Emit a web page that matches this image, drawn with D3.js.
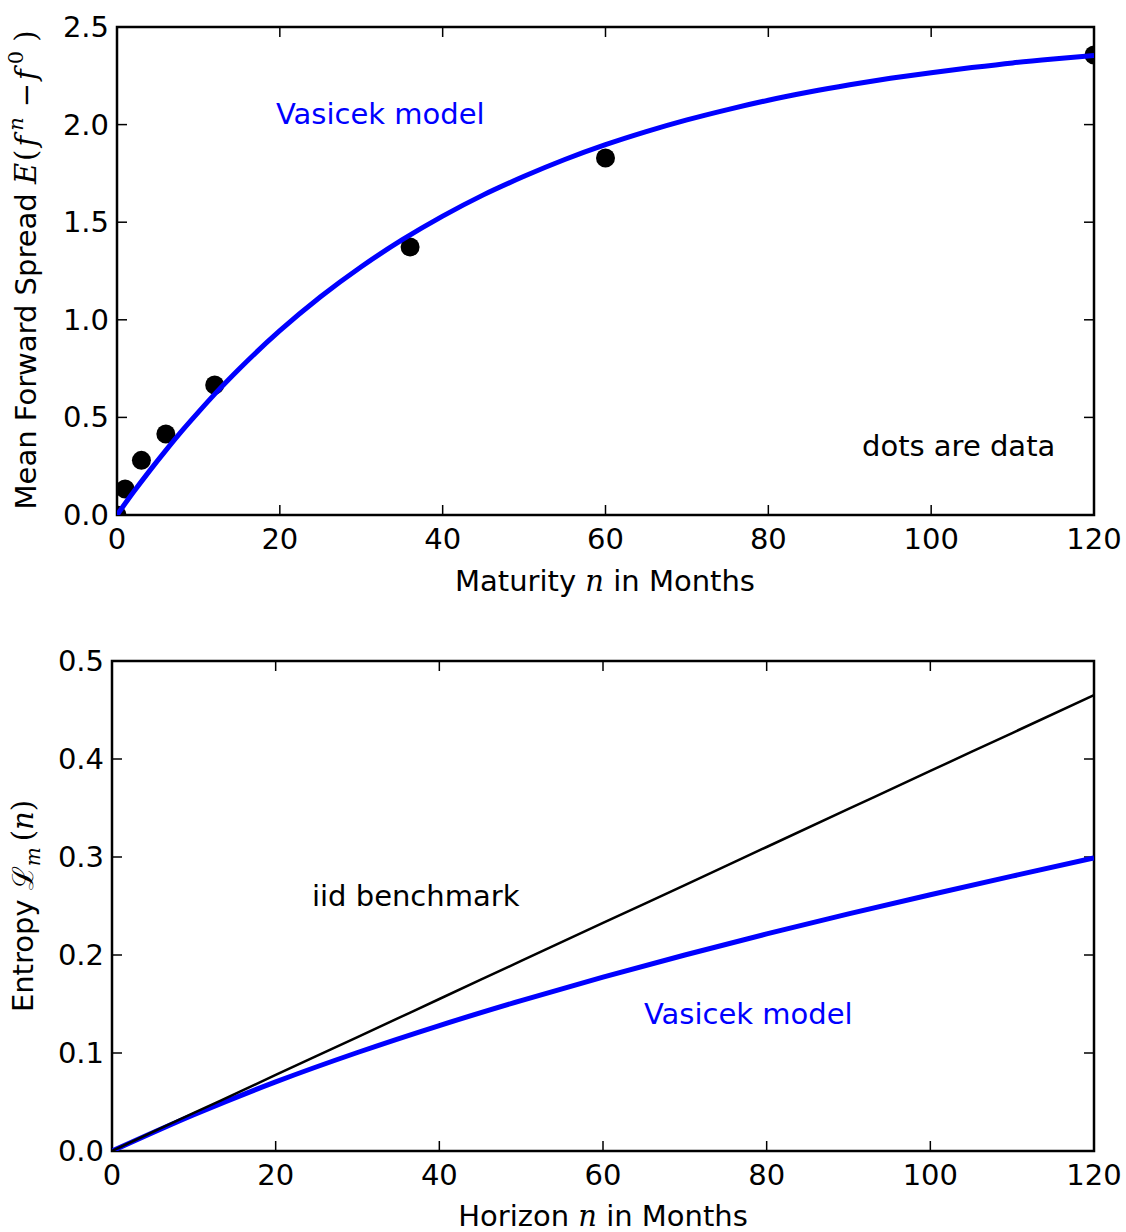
<!DOCTYPE html>
<html>
<head>
<meta charset="utf-8">
<script src="https://cdn.jsdelivr.net/npm/d3@7"></script>
<style>
  body { margin: 0; background: #fff; }
  text { font-family: "DejaVu Sans", sans-serif; }
</style>
</head>
<body>
<script>
// top panel: mean forward spread
var spreadMonths = [0, 1, 3, 6, 12, 36, 60, 120];
var spreadData = [0, 0.133, 0.28, 0.415, 0.666, 1.373, 1.829, 2.357];
var vasicekMonths = [0, 2, 4, 6, 8, 10, 12, 15, 20, 25, 30, 35, 40, 45, 50, 55, 60, 65, 70, 75, 80, 85, 90, 95, 100, 105, 110, 115, 120];
var vasicekSpread = [0, 0.116, 0.226, 0.331, 0.432, 0.527, 0.619, 0.748, 0.944, 1.118, 1.272, 1.409, 1.531, 1.640, 1.735, 1.821, 1.897, 1.964, 2.024, 2.077, 2.125, 2.167, 2.204, 2.237, 2.266, 2.292, 2.316, 2.336, 2.354];

// bottom panel: entropy
var horizonMonths = [0, 10, 20, 30, 40, 50, 60, 70, 80, 90, 100, 110, 120];
var iidEntropy = [0, 0.0388, 0.0776, 0.1163, 0.1551, 0.1939, 0.2327, 0.2714, 0.3102, 0.349, 0.3878, 0.4265, 0.4653];
var vasicekEntropy = [0, 0.037, 0.0705, 0.1005, 0.128, 0.1535, 0.1775, 0.2, 0.2215, 0.242, 0.2615, 0.2805, 0.299];

var xTicks = [0, 20, 40, 60, 80, 100, 120];
var topYTicks = [0, 0.5, 1.0, 1.5, 2.0, 2.5];
var botYTicks = [0, 0.1, 0.2, 0.3, 0.4, 0.5];

var svg = d3.select("body").append("svg")
  .attr("width", 1126)
  .attr("height", 1232);

var FS = 29;

function panel(id, left, right, top, bottom, yMax, yTicks) {
  var x = d3.scaleLinear().domain([0, 120]).range([left, right]);
  var y = d3.scaleLinear().domain([0, yMax]).range([bottom, top]);
  var g = svg.append("g");

  svg.append("clipPath").attr("id", id)
    .append("rect")
    .attr("x", left).attr("y", top)
    .attr("width", right - left).attr("height", bottom - top);

  var tl = 10;
  // ticks inward on all four sides
  xTicks.forEach(function (t) {
    g.append("line").attr("x1", x(t)).attr("x2", x(t))
      .attr("y1", bottom).attr("y2", bottom - tl)
      .attr("stroke", "#000").attr("stroke-width", 1.5);
    g.append("line").attr("x1", x(t)).attr("x2", x(t))
      .attr("y1", top).attr("y2", top + tl)
      .attr("stroke", "#000").attr("stroke-width", 1.5);
    g.append("text").attr("x", x(t)).attr("y", bottom + 34)
      .attr("text-anchor", "middle").attr("font-size", FS).text(t);
  });
  yTicks.forEach(function (t) {
    g.append("line").attr("x1", left).attr("x2", left + tl)
      .attr("y1", y(t)).attr("y2", y(t))
      .attr("stroke", "#000").attr("stroke-width", 1.5);
    g.append("line").attr("x1", right).attr("x2", right - tl)
      .attr("y1", y(t)).attr("y2", y(t))
      .attr("stroke", "#000").attr("stroke-width", 1.5);
    g.append("text").attr("x", left - 8).attr("y", y(t) + 10)
      .attr("text-anchor", "end").attr("font-size", FS).text(t.toFixed(1));
  });

  var plot = svg.append("g").attr("clip-path", "url(#" + id + ")");
  return { x: x, y: y, g: g, plot: plot, left: left, right: right, top: top, bottom: bottom };
}

function frame(p) {
  p.g.append("rect")
    .attr("x", p.left).attr("y", p.top)
    .attr("width", p.right - p.left).attr("height", p.bottom - p.top)
    .attr("fill", "none").attr("stroke", "#000").attr("stroke-width", 2.5);
}

function italicMath(sel, s) {
  return sel.append("tspan").attr("font-family", "DejaVu Serif").attr("font-style", "italic").text(s);
}

// ---------- top panel ----------
var p1 = panel("clipTop", 117, 1094, 27, 515, 2.5, topYTicks);

p1.plot.selectAll("circle")
  .data(spreadMonths)
  .join("circle")
  .attr("cx", function (d) { return p1.x(d); })
  .attr("cy", function (d, i) { return p1.y(spreadData[i]); })
  .attr("r", 9.5)
  .attr("fill", "#000");

var line1 = d3.line()
  .x(function (d) { return p1.x(d[0]); })
  .y(function (d) { return p1.y(d[1]); })
  .curve(d3.curveMonotoneX);

p1.plot.append("path")
  .datum(d3.zip(vasicekMonths, vasicekSpread))
  .attr("d", line1)
  .attr("fill", "none").attr("stroke", "#0000ff").attr("stroke-width", 5);

frame(p1);

svg.append("text").attr("x", 276).attr("y", 124)
  .attr("font-size", FS).attr("fill", "#0000ff").text("Vasicek model");
svg.append("text").attr("x", 862).attr("y", 456)
  .attr("font-size", FS).attr("fill", "#000").text("dots are data");

var xl1 = svg.append("text").attr("x", 605).attr("y", 591)
  .attr("text-anchor", "middle").attr("font-size", FS);
xl1.append("tspan").text("Maturity ");
italicMath(xl1, "n");
xl1.append("tspan").text(" in Months");

var yl1 = svg.append("text")
  .attr("transform", "translate(36,270) rotate(-90)")
  .attr("text-anchor", "middle").attr("font-size", FS);
yl1.append("tspan").text("Mean Forward Spread ");
italicMath(yl1, "E");
yl1.append("tspan").attr("font-family", "DejaVu Serif").attr("dx", 2).text("(");
italicMath(yl1, "f").attr("dx", 3);
italicMath(yl1, "n").attr("font-size", 21).attr("dx", 5).attr("dy", -13);
yl1.append("tspan").attr("font-family", "DejaVu Serif").attr("dx", 10).attr("dy", 13).text("\u2212");
italicMath(yl1, "f").attr("dx", 3);
yl1.append("tspan").attr("font-family", "DejaVu Serif").attr("font-size", 21).attr("dx", 5).attr("dy", -13).text("0");
yl1.append("tspan").attr("font-family", "DejaVu Serif").attr("dx", 9).attr("dy", 13).text(")");

// ---------- bottom panel ----------
var p2 = panel("clipBot", 112, 1094, 661, 1151, 0.5, botYTicks);

var line2 = d3.line()
  .x(function (d) { return p2.x(d[0]); })
  .y(function (d) { return p2.y(d[1]); })
  .curve(d3.curveMonotoneX);

p2.plot.append("path")
  .datum(d3.zip(horizonMonths, vasicekEntropy))
  .attr("d", line2)
  .attr("fill", "none").attr("stroke", "#0000ff").attr("stroke-width", 5);

p2.plot.append("path")
  .datum(d3.zip(horizonMonths, iidEntropy))
  .attr("d", line2)
  .attr("fill", "none").attr("stroke", "#000").attr("stroke-width", 2.5);

frame(p2);

svg.append("text").attr("x", 312).attr("y", 906)
  .attr("font-size", FS).attr("fill", "#000").text("iid benchmark");
svg.append("text").attr("x", 644).attr("y", 1024)
  .attr("font-size", FS).attr("fill", "#0000ff").text("Vasicek model");

var xl2 = svg.append("text").attr("x", 603).attr("y", 1226)
  .attr("text-anchor", "middle").attr("font-size", FS);
xl2.append("tspan").text("Horizon ");
italicMath(xl2, "n");
xl2.append("tspan").text(" in Months");

var yl2 = svg.append("text")
  .attr("transform", "translate(33,906) rotate(-90)")
  .attr("text-anchor", "middle").attr("font-size", FS);
yl2.append("tspan").text("Entropy ");
yl2.append("tspan").attr("font-family", "DejaVu Serif").text("\u2112");
italicMath(yl2, "m").attr("font-size", 20).attr("dy", 7);
yl2.append("tspan").attr("font-family", "DejaVu Serif").attr("dx", 6).attr("dy", -7).text("(");
italicMath(yl2, "n");
yl2.append("tspan").attr("font-family", "DejaVu Serif").text(")");
</script>
</body>
</html>
